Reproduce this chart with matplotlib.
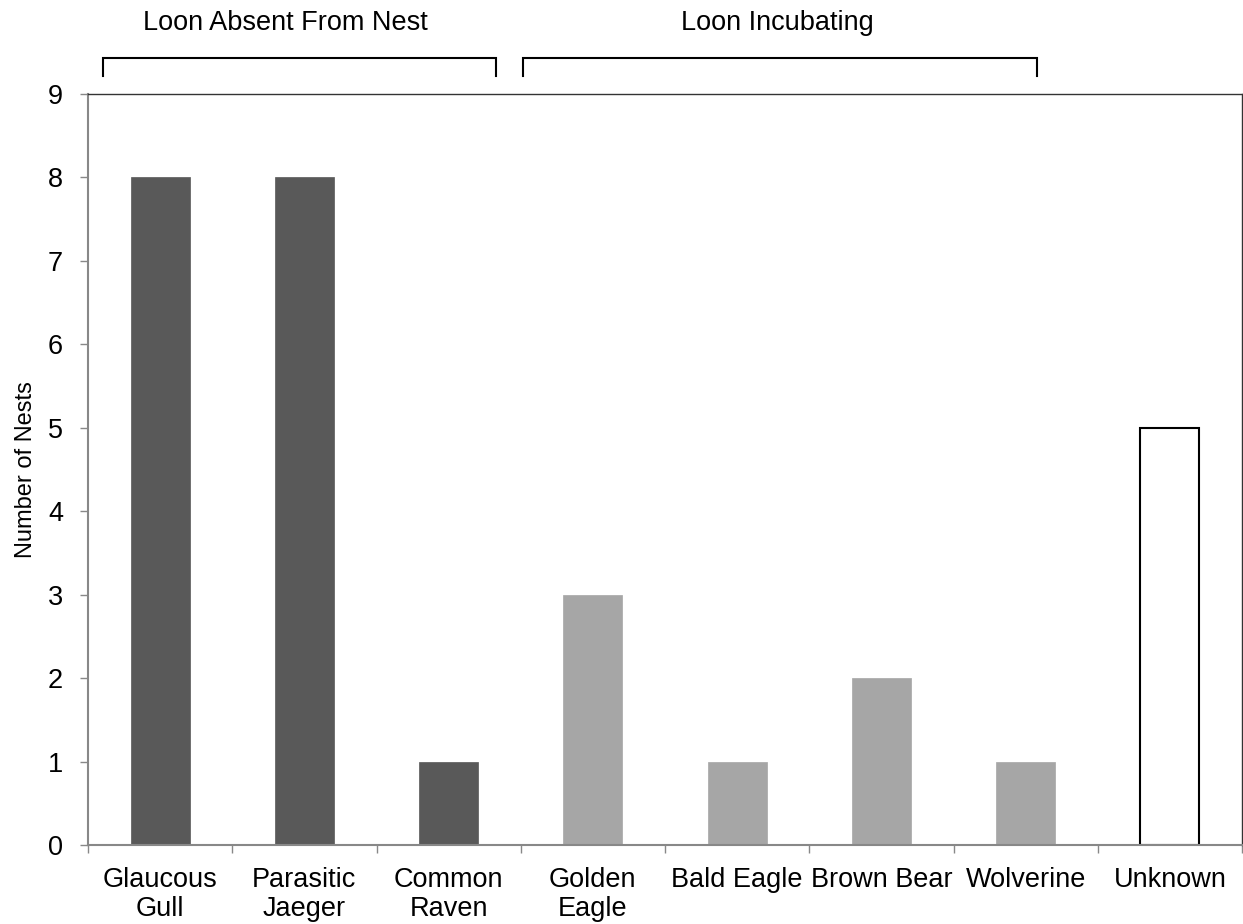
import matplotlib
matplotlib.use("Agg")
import matplotlib.pyplot as plt
import numpy as np

categories = ["Glaucous\nGull", "Parasitic\nJaeger", "Common\nRaven", "Golden\nEagle",
              "Bald Eagle", "Brown Bear", "Wolverine", "Unknown"]
values = [8, 8, 1, 3, 1, 2, 1, 5]
groups = ["absent", "absent", "absent", "incubating", "incubating", "incubating", "incubating", "unknown"]
group_labels = {"absent": "Loon Absent From Nest", "incubating": "Loon Incubating"}

face = {"absent": "#595959", "incubating": "#a6a6a6", "unknown": "white"}
edge = {"absent": "#595959", "incubating": "#a6a6a6", "unknown": "black"}

plt.rcParams['font.family'] = ['Liberation Sans', 'DejaVu Sans']

fig = plt.figure(figsize=(12.43, 9.24), dpi=100)
W, H = 1243, 924
left, right, top, bottom = 88, 1242, 94, 845
ax = fig.add_axes([left / W, 1 - bottom / H, (right - left) / W, (bottom - top) / H])

x = np.arange(len(categories))
for xi, v, g in zip(x, values, groups):
    ax.bar(xi, v, width=0.41, color=face[g], edgecolor=edge[g],
           linewidth=1.5 if g == "unknown" else 0.5, zorder=2)

ax.set_xlim(-0.5, len(categories) - 0.5)
ax.set_ylim(0, 9)
ax.set_yticks(range(10))
ax.set_xticks(x)
ax.set_xticklabels(categories, fontsize=19.5, linespacing=1.12)
ax.set_xticks(np.arange(-0.5, len(categories)), minor=True)
ax.tick_params(axis='x', which='major', length=0, pad=16)
ax.tick_params(axis='x', which='minor', length=6, width=1, color='#888888', direction='out')
ax.tick_params(axis='y', length=6, width=1, color='#888888', direction='out', labelsize=19.5, pad=12)
ax.set_ylabel("Number of Nests", fontsize=17, labelpad=8)

for s in ['left', 'bottom']:
    ax.spines[s].set_color('#888888')
    ax.spines[s].set_linewidth(1.5)
for s in ['top', 'right']:
    ax.spines[s].set_color('#333333')
    ax.spines[s].set_linewidth(1.0)

# Group brackets (x0, x1, label centre)
brackets = [("absent", -0.396, 2.33, 0.866), ("incubating", 2.516, 6.08, 4.28)]
for g, x0, x1, xc in brackets:
    ax.plot([x0, x0, x1, x1], [9.22, 9.43, 9.43, 9.22], color='black', lw=1.5,
            clip_on=False, solid_joinstyle='miter')
    ax.text(xc, 9.85, group_labels[g], ha='center', va='center', fontsize=19.5)

fig.savefig("out.png", dpi=100)
